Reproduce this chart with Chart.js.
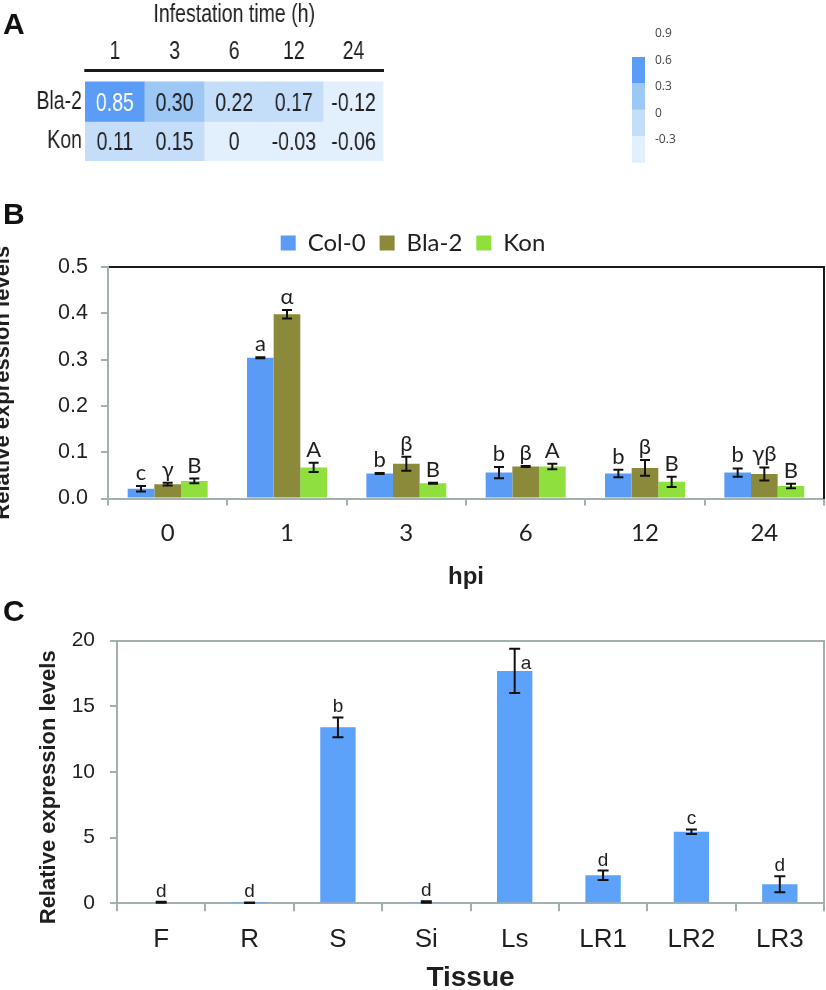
<!DOCTYPE html>
<html>
<head>
<meta charset="utf-8">
<script src="https://cdn.jsdelivr.net/npm/chart.js@4.4.1/dist/chart.umd.min.js"></script>
<style>
  html, body { margin: 0; padding: 0; background: #fff; }
  #page { position: relative; width: 826px; height: 990px; overflow: hidden; }
  canvas { position: absolute; }
  .tag { position: absolute; font: bold 30px 'Liberation Sans', Arial, sans-serif; line-height: 1; color: #111; }
</style>
</head>
<body>
<div id="page">
  <!-- panel A text is a narrow face: draw wide, show squeezed -->
  <canvas id="heat" width="538" height="180" style="left:0;top:0;width:420px;height:180px"></canvas>
  <canvas id="scaleBar" width="85" height="180" style="left:600px;top:0"></canvas>
  <canvas id="timeChart" width="826" height="420" style="left:0;top:180px"></canvas>
  <canvas id="tissueChart" width="826" height="400" style="left:0;top:600px"></canvas>
  <div class="tag" style="left:3px;top:9px">A</div>
  <div class="tag" style="left:3px;top:199px">B</div>
  <div class="tag" style="left:3px;top:596px">C</div>
</div>
<script>
// A: correlation heatmap
const hours = ['1', '3', '6', '12', '24'];
const heatRows = ['Bla-2', 'Kon'];            // top to bottom
const corrBla2 = [0.85, 0.30, 0.22, 0.17, -0.12];
const corrKon = [0.11, 0.15, 0, -0.03, -0.06];
const scaleTicks = [-0.3, 0, 0.3, 0.6, 0.9];
const scaleColors = ['#e2effc', '#c4ddf8', '#9dc7f5', '#5a9cf6'];

// B: expression after infestation
const hpi = ['0', '1', '3', '6', '12', '24'];
const levelTicks = [0, 0.1, 0.2, 0.3, 0.4, 0.5];
const col0 = [0.021, 0.304, 0.054, 0.056, 0.054, 0.056];
const col0Err = [0.006, 0.001, 0.001, 0.012, 0.008, 0.009];
const col0Sig = ['c', 'a', 'b', 'b', 'b', 'b'];
const bla2 = [0.031, 0.398, 0.075, 0.069, 0.066, 0.053];
const bla2Err = [0.003, 0.009, 0.015, 0.001, 0.017, 0.014];
const bla2Sig = ['γ', 'α', 'β', 'β', 'β', 'γβ'];
const kon = [0.038, 0.067, 0.033, 0.069, 0.036, 0.027];
const konErr = [0.005, 0.010, 0.001, 0.006, 0.011, 0.005];
const konSig = ['B', 'A', 'B', 'A', 'B', 'B'];

// C: expression by tissue
const tissues = ['F', 'R', 'S', 'Si', 'Ls', 'LR1', 'LR2', 'LR3'];
const tissueTicks = [0, 5, 10, 15, 20];
const tissueExpr = [0.08, 0.05, 13.4, 0.1, 17.7, 2.13, 5.45, 1.45];
const tissueErr = [0.04, 0.02, 0.76, 0.05, 1.68, 0.36, 0.18, 0.61];
const tissueSig = ['d', 'd', 'b', 'd', 'a', 'd', 'c', 'd'];

const ARIAL = "'Liberation Sans', Arial, sans-serif";
const SOFT = "Lato, 'Open Sans', 'Liberation Sans', sans-serif";
const axisGray = '#a3b0b0';
const ink = '#1f1f1f';

Chart.defaults.animation = false;
Chart.defaults.responsive = false;
Chart.defaults.devicePixelRatio = 1;
Chart.defaults.plugins.tooltip.enabled = false;
Chart.defaults.color = ink;
Chart.defaults.font.family = ARIAL;

function binColor(v) {
    // 0 falls in the lowest bin, 0.30 in the 0.3-0.6 bin
    const idx = scaleTicks.slice(1, -1).filter(t => (t === 0 ? v > 0 : v >= t)).length;
    return scaleColors[idx];
}

// numbers written in the heatmap cells
const cellValues = {
    id: 'cellValues',
    afterDatasetsDraw(chart, args, opts) {
        const ctx = chart.ctx;
        ctx.save();
        ctx.font = opts.font;
        ctx.textAlign = 'center';
        ctx.textBaseline = 'middle';
        chart.data.datasets.forEach((ds, i) => {
            chart.getDatasetMeta(i).data.forEach((cell, j) => {
                const v = ds.values[j];
                ctx.fillStyle = v >= 0.6 ? '#ffffff' : ink;
                ctx.fillText(v === 0 ? '0' : v.toFixed(2), cell.x, (cell.y + cell.base) / 2 + 2);
            });
        });
        ctx.restore();
    }
};

// error bars + significance letters
const errorBars = {
    id: 'errorBars',
    afterDatasetsDraw(chart, args, opts) {
        const ctx = chart.ctx;
        const y = chart.scales.y;
        const area = chart.chartArea;
        ctx.save();
        ctx.strokeStyle = '#111';
        ctx.fillStyle = ink;
        ctx.lineWidth = 2;
        ctx.font = opts.font;
        chart.data.datasets.forEach((ds, i) => {
            if (!ds.errors) return;
            chart.getDatasetMeta(i).data.forEach((bar, j) => {
                const v = ds.data[j], e = ds.errors[j];
                const top = y.getPixelForValue(v + e);
                const bot = y.getPixelForValue(Math.max(v - e, 0));
                const half = opts.cap / 2;
                ctx.beginPath();
                ctx.moveTo(bar.x, top); ctx.lineTo(bar.x, bot);
                ctx.moveTo(bar.x - half, top); ctx.lineTo(bar.x + half, top);
                ctx.moveTo(bar.x - half, bot); ctx.lineTo(bar.x + half, bot);
                ctx.stroke();

                const letter = ds.letters[j];
                ctx.textBaseline = 'alphabetic';
                if (top - opts.gap - opts.size < area.top) {
                    // no room above the frame: put it beside the bar
                    ctx.textAlign = 'left';
                    ctx.fillText(letter, bar.x + 6, top + opts.size + 1);
                } else {
                    ctx.textAlign = 'center';
                    ctx.fillText(letter, bar.x, top - opts.gap);
                }
            });
        });
        ctx.restore();
    }
};

// ---------- A ----------
new Chart(document.getElementById('heat'), {
    type: 'bar',
    data: {
        labels: hours,
        datasets: [corrBla2, corrKon].map((vals, r) => ({
            label: heatRows[r],
            data: vals.map(() => [heatRows.length - r - 1, heatRows.length - r]),
            values: vals,
            backgroundColor: vals.map(binColor)
        }))
    },
    options: {
        layout: { padding: { left: 0, right: 47, top: 0, bottom: 19 } },
        datasets: { bar: { barPercentage: 1, categoryPercentage: 1, grouped: false, borderWidth: 0 } },
        plugins: {
            legend: { display: false },
            cellValues: { font: '25px ' + ARIAL }
        },
        scales: {
            x: {
                position: 'top',
                grid: { display: false, drawTicks: false },
                border: { display: true, color: '#1a1a1a', width: 3 },
                ticks: { font: { size: 25 }, color: ink, padding: 3 },
                title: { display: true, text: 'Infestation time (h)', font: { size: 25 }, color: ink, padding: { top: 0, bottom: 0 } },
                afterFit: s => { s.height = 70; }
            },
            y: {
                min: 0,
                max: 2.3,
                grid: { display: false, drawTicks: false },
                border: { display: false },
                afterBuildTicks: s => { s.ticks = heatRows.map((_, r) => ({ value: heatRows.length - r - 0.5 })); },
                ticks: {
                    font: { size: 25 },
                    color: ink,
                    padding: 4,
                    callback: v => heatRows[Math.round(heatRows.length - 0.5 - v)]
                },
                afterFit: s => { s.width = 109; }
            }
        }
    },
    plugins: [cellValues]
});

new Chart(document.getElementById('scaleBar'), {
    type: 'bar',
    data: {
        labels: [''],
        datasets: scaleColors.map((c, i) => ({ data: [[scaleTicks[i], scaleTicks[i + 1]]], backgroundColor: c }))
    },
    options: {
        layout: { padding: { left: 32, right: 0, top: 57, bottom: 12 } },
        datasets: { bar: { barPercentage: 1, categoryPercentage: 1, grouped: false, borderWidth: 0 } },
        plugins: { legend: { display: false } },
        scales: {
            x: { display: false },
            y: {
                position: 'right',
                min: scaleTicks[0],
                max: scaleTicks[scaleTicks.length - 1],
                grid: { display: false, drawTicks: false },
                border: { display: false },
                afterBuildTicks: s => { s.ticks = scaleTicks.map(v => ({ value: v })); },
                ticks: { font: { family: "'Open Sans', " + ARIAL, size: 12 }, color: '#444', padding: 10, labelOffset: -23, callback: v => String(v) },
                afterFit: s => { s.width = 40; }
            }
        }
    }
});

// ---------- B ----------
new Chart(document.getElementById('timeChart'), {
    type: 'bar',
    data: {
        labels: hpi,
        datasets: [
            { label: 'Col-0', data: col0, errors: col0Err, letters: col0Sig, backgroundColor: '#5a9bf5' },
            { label: 'Bla-2', data: bla2, errors: bla2Err, letters: bla2Sig, backgroundColor: '#8b8a3b' },
            { label: 'Kon', data: kon, errors: konErr, letters: konSig, backgroundColor: '#8fe03c' }
        ]
    },
    options: {
        layout: { padding: { left: 0, right: 0, top: 37, bottom: 0 } },
        datasets: { bar: { barPercentage: 1, categoryPercentage: 0.67, borderWidth: 0 } },
        plugins: {
            legend: {
                position: 'top',
                labels: { boxWidth: 15, boxHeight: 15, padding: 14, color: ink, font: { family: SOFT, size: 24 } }
            },
            errorBars: { font: '22px ' + SOFT, size: 22, cap: 10, gap: 6 }
        },
        scales: {
            x: {
                grid: { display: true, drawOnChartArea: false, tickLength: 7, color: axisGray, lineWidth: 2 },
                border: { color: axisGray, width: 2 },
                ticks: { font: { family: SOFT, size: 24 }, color: ink, padding: 13 },
                title: { display: true, text: 'hpi', font: { size: 24, weight: 'bold' }, color: ink, padding: { top: 0, bottom: 8 } },
                afterFit: s => { s.height = 101.5; }
            },
            x2: {
                position: 'top',
                grid: { display: false, drawTicks: false },
                ticks: { display: false },
                border: { color: '#1a1a1a', width: 2 },
                afterFit: s => { s.height = 2; }
            },
            y: {
                min: levelTicks[0],
                max: levelTicks[levelTicks.length - 1],
                afterBuildTicks: s => { s.ticks = levelTicks.map(v => ({ value: v })); },
                grid: { display: true, drawOnChartArea: false, tickLength: 7, color: axisGray, lineWidth: 2 },
                border: { color: axisGray, width: 2 },
                ticks: { font: { size: 21.5 }, color: ink, padding: 13, callback: v => v.toFixed(1) },
                title: { display: true, text: 'Relative expression levels', font: { size: 22, weight: 'bold' }, color: ink, padding: { top: -10, bottom: 0 } },
                afterFit: s => { s.width = 108; }
            },
            y2: {
                position: 'right',
                min: 0,
                max: 1,
                grid: { display: false, drawTicks: false },
                ticks: { display: false },
                border: { color: '#1a1a1a', width: 2 },
                afterFit: s => { s.width = 2; }
            }
        }
    },
    plugins: [errorBars]
});

// ---------- C ----------
new Chart(document.getElementById('tissueChart'), {
    type: 'bar',
    data: {
        labels: tissues,
        datasets: [
            { label: 'Col-0', data: tissueExpr, errors: tissueErr, letters: tissueSig, backgroundColor: '#5ca1fa' }
        ]
    },
    options: {
        layout: { padding: { left: 0, right: 0, top: 39.7, bottom: 0 } },
        datasets: { bar: { barPercentage: 1, categoryPercentage: 0.4, borderWidth: 0 } },
        plugins: {
            legend: { display: false },
            errorBars: { font: '19px ' + ARIAL, size: 19, cap: 11, gap: 5 }
        },
        scales: {
            x: {
                grid: { display: true, drawOnChartArea: false, tickLength: 8, color: axisGray, lineWidth: 2 },
                border: { color: axisGray, width: 2 },
                ticks: { font: { size: 26 }, color: ink, padding: 13 },
                title: { display: true, text: 'Tissue', font: { size: 28, weight: 'bold' }, color: ink, padding: { top: 0, bottom: 5 } },
                afterFit: s => { s.height = 96.7; }
            },
            x2: {
                position: 'top',
                grid: { display: false, drawTicks: false },
                ticks: { display: false },
                border: { color: axisGray, width: 2 },
                afterFit: s => { s.height = 1; }
            },
            y: {
                min: tissueTicks[0],
                max: tissueTicks[tissueTicks.length - 1],
                afterBuildTicks: s => { s.ticks = tissueTicks.map(v => ({ value: v })); },
                grid: { display: true, drawOnChartArea: false, tickLength: 7, color: axisGray, lineWidth: 2 },
                border: { color: axisGray, width: 2 },
                ticks: { font: { size: 21 }, color: ink, padding: 15 },
                title: { display: true, text: 'Relative expression levels     ', font: { size: 22, weight: 'bold' }, color: ink, padding: { top: 36, bottom: 0 } },
                afterFit: s => { s.width = 117; }
            },
            y2: {
                position: 'right',
                min: 0,
                max: 1,
                grid: { display: false, drawTicks: false },
                ticks: { display: false },
                border: { color: axisGray, width: 2 },
                afterFit: s => { s.width = 2; }
            }
        }
    },
    plugins: [errorBars]
});
</script>
</body>
</html>
